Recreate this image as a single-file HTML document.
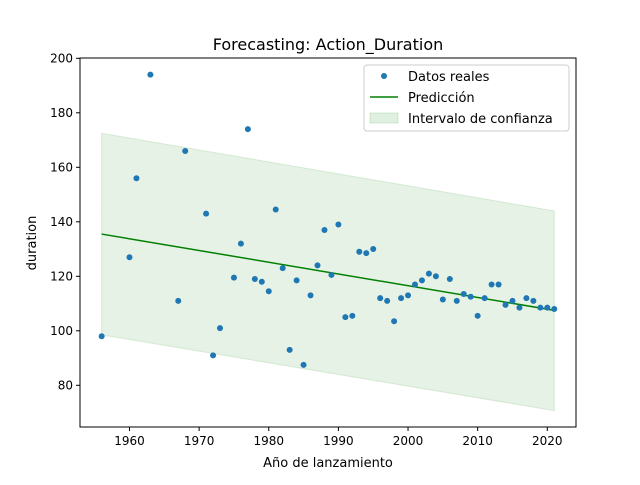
<!DOCTYPE html>
<html><head><meta charset="utf-8"><style>
body{margin:0;background:#fff;}
svg text{font-family:"DejaVu Sans","Liberation Sans",sans-serif;fill:#000;}
</style></head><body>
<svg id="chart" width="640" height="480" xmlns="http://www.w3.org/2000/svg">
<rect width="640" height="480" fill="#fff"/>
<g id="band"></g><g id="line"></g><g id="pts"></g><g id="axes"></g>
<text x="328" y="50" font-size="16" text-anchor="middle">Forecasting: Action_Duration</text>
<text x="328" y="467" font-size="13" text-anchor="middle">Año de lanzamiento</text>
<text transform="translate(36,243) rotate(-90)" font-size="13" text-anchor="middle">duration</text>
<g>
<rect x="364" y="65" width="205" height="66" rx="3" fill="#fff" fill-opacity="0.85" stroke="#ccc"/>
<circle cx="384" cy="76" r="3" fill="#1f77b4"/>
<text x="408" y="81" font-size="13">Datos reales</text>
<line x1="370" y1="97" x2="398" y2="97" stroke="green" stroke-width="1.5"/>
<text x="408" y="102" font-size="13">Predicción</text>
<rect x="370" y="113" width="28" height="10" fill="green" fill-opacity="0.12" stroke="green" stroke-opacity="0.15"/>
<text x="408" y="123" font-size="13">Intervalo de confianza</text>
</g>
</svg>
<script>
const years=[1956,1960,1961,1963,1967,1968,1971,1972,1973,1975,1976,1977,1978,1979,1980,1981,1982,1983,1984,1985,1986,1987,1988,1989,1990,1991,1992,1993,1994,1995,1996,1997,1998,1999,2000,2001,2002,2003,2004,2005,2006,2007,2008,2009,2010,2011,2012,2013,2014,2015,2016,2017,2018,2019,2020,2021];
const durations=[98,127,156,194,111,166,143,91,101,119.5,132,174,119,118,114.5,144.5,123,93,118.5,87.5,113,124,137,120.5,139,105,105.5,129,128.5,130,112,111,103.5,112,113,117,118.5,121,120,111.5,119,111,113.5,112.5,105.5,112,117,117,109.5,111,108.5,112,111,108.5,108.5,108];
const predYears=[1956,2021];
const predValues=[135.5,107.5];
const upperValues=[172.5,144];
const lowerValues=[98.5,70.7];
const xTicks=[1960,1970,1980,1990,2000,2010,2020];
const yTicks=[80,100,120,140,160,180,200];
const L=80,R=576,T=58,B=427;
const x=v=>129.5+(v-1960)*(417.8/60);
const y=v=>385.3-(v-80)*(327/120);
const NS="http://www.w3.org/2000/svg";
function mk(tag,attrs,parent){const e=document.createElementNS(NS,tag);for(const k in attrs)e.setAttribute(k,attrs[k]);parent.appendChild(e);return e;}
const band=document.getElementById('band');
const poly=mk('polygon',{points:`${x(predYears[0])},${y(upperValues[0])} ${x(predYears[1])},${y(upperValues[1])} ${x(predYears[1])},${y(lowerValues[1])} ${x(predYears[0])},${y(lowerValues[0])}`,fill:'green','fill-opacity':0.1,stroke:'green','stroke-opacity':0.12},band);


const ln=mk('line',{x1:x(predYears[0]),y1:y(predValues[0]),x2:x(predYears[1]),y2:y(predValues[1]),stroke:'green','stroke-width':1.5},document.getElementById('line'));


const pts=document.getElementById('pts');
years.forEach((yr,i)=>{const c=mk('circle',{cx:x(yr),cy:y(durations[i]),r:3,fill:'#1f77b4'},pts);

});
const ax=document.getElementById('axes');
const fr=mk('rect',{x:L,y:T,width:R-L,height:B-T,fill:'none',stroke:'#000','stroke-width':1},ax);


xTicks.forEach(t=>{mk('line',{x1:x(t),y1:B,x2:x(t),y2:B+4,stroke:'#000'},ax);
const tx=mk('text',{x:x(t),y:B+18,'font-size':12,'text-anchor':'middle'},ax);tx.textContent=t;

});
yTicks.forEach(t=>{mk('line',{x1:L-4,y1:y(t),x2:L,y2:y(t),stroke:'#000'},ax);
const tx=mk('text',{x:L-7,y:y(t)+4,'font-size':12,'text-anchor':'end'},ax);tx.textContent=t;

});
</script>
</body></html>
